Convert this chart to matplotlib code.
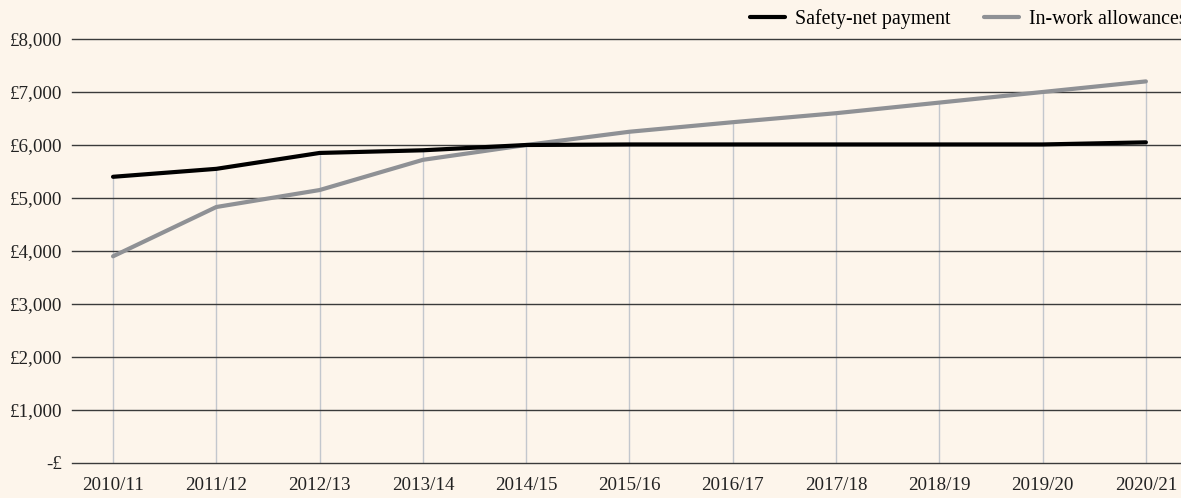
import numpy as np
import matplotlib.pyplot as plt
from matplotlib.ticker import FuncFormatter

years = ['2010/11', '2011/12', '2012/13', '2013/14', '2014/15', '2015/16',
         '2016/17', '2017/18', '2018/19', '2019/20', '2020/21']
safety_net = [5400, 5550, 5850, 5900, 6000, 6010, 6010, 6010, 6010, 6010, 6050]
in_work = [3900, 4830, 5150, 5720, 6000, 6250, 6430, 6600, 6800, 7000, 7200]
y_ticks = [0, 1000, 2000, 3000, 4000, 5000, 6000, 7000, 8000]

bg = '#fdf5eb'
plt.rcParams['font.family'] = ['Liberation Serif', 'DejaVu Serif']

fig = plt.figure(figsize=(11.81, 4.98), dpi=100, facecolor=bg)
ax = fig.add_axes([0.061, 0.0703, 0.939, 0.8514], facecolor=bg)

x = np.arange(len(years))

# drop lines from the higher series down to zero
tops = np.maximum(safety_net, in_work)
ax.vlines(x, 0, tops, color='#c3c7cd', lw=1.0, zorder=1)

# horizontal gridlines
for v in y_ticks:
    ax.axhline(v, color='#3a3a3a', lw=1.0, zorder=2, clip_on=False)

ax.plot(x, safety_net, color='#000000', lw=3.0, label='Safety-net payment',
        zorder=4, solid_capstyle='round')
ax.plot(x, in_work, color='#8f9195', lw=3.0, label='In-work allowances',
        zorder=3, solid_capstyle='round')

ax.set_xlim(-0.397, 10.34)
ax.set_ylim(0, 8000)
ax.set_xticks(x)
ax.set_xticklabels(years)
ax.set_yticks(y_ticks)
ax.yaxis.set_major_formatter(FuncFormatter(
    lambda v, p: '-£' if v == 0 else f'£{int(v):,}'))
ax.tick_params(axis='both', length=0, labelsize=13.7, colors='#222222')
ax.tick_params(axis='y', pad=7)
ax.tick_params(axis='x', pad=10)
for s in ax.spines.values():
    s.set_visible(False)

fig.legend(loc='center left', bbox_to_anchor=(750 / 1181, 1 - 19 / 498),
           ncol=2, frameon=False, fontsize=14.3, handlelength=1.75,
           handletextpad=0.5, columnspacing=1.7, borderpad=0, borderaxespad=0)

fig.savefig('out.png', dpi=100, facecolor=bg)
